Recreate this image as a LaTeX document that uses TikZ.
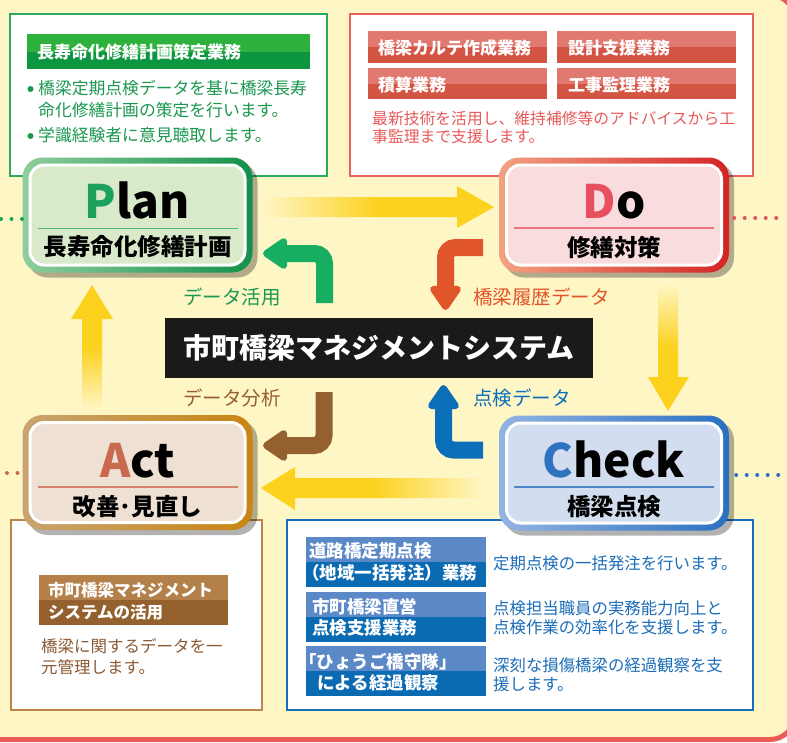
\documentclass[tikz,border=0pt]{standalone}
\usepackage{fontspec}
\setmainfont{Noto Sans CJK JP}
\usetikzlibrary{arrows.meta,shadows,calc}
\newcommand\FS[1]{\fontsize{#1}{#1}\selectfont}
\definecolor{bgy}{HTML}{FFF6C6}
\definecolor{panelred}{HTML}{EC5B55}
\definecolor{ylw}{HTML}{FCD21F}
\definecolor{gline}{HTML}{2AAA5E}
\definecolor{gtext}{HTML}{1A9850}
\definecolor{gbarA}{HTML}{2DB03C}
\definecolor{gbarB}{HTML}{0D9640}
\definecolor{rline}{HTML}{E86060}
\definecolor{rtext}{HTML}{E85A5A}
\definecolor{rbarA}{HTML}{E07A70}
\definecolor{rbarB}{HTML}{D45444}
\definecolor{bline}{HTML}{1570B8}
\definecolor{btext}{HTML}{1C6DB8}
\definecolor{bbarA}{HTML}{5B88C6}
\definecolor{bbarB}{HTML}{0A6AB2}
\definecolor{nline}{HTML}{B8864A}
\definecolor{ntext}{HTML}{8A5A35}
\definecolor{nbarA}{HTML}{B28048}
\definecolor{nbarB}{HTML}{94602E}
\definecolor{blk}{HTML}{1B1A19}
\definecolor{garrow}{HTML}{18AE62}
\definecolor{oarrow}{HTML}{E0552A}
\definecolor{barrow}{HTML}{94602F}
\definecolor{uarrow}{HTML}{0A6EB8}
\definecolor{pP}{HTML}{1BA15B}
\definecolor{pD}{HTML}{E8505F}
\definecolor{pA}{HTML}{C96A4F}
\definecolor{pC}{HTML}{2F72BF}
\definecolor{plL}{HTML}{8FCE9C}
\definecolor{plR}{HTML}{13904A}
\definecolor{plF}{HTML}{D9EACB}
\definecolor{doL}{HTML}{F2A282}
\definecolor{doR}{HTML}{D42424}
\definecolor{doF}{HTML}{F9DCDD}
\definecolor{acL}{HTML}{C8A470}
\definecolor{acR}{HTML}{C88512}
\definecolor{acF}{HTML}{EEE0D2}
\definecolor{chL}{HTML}{93B4E2}
\definecolor{chR}{HTML}{2870C0}
\definecolor{chF}{HTML}{D2DEF0}
\begin{document}
\begin{tikzpicture}[x=1pt,y=-1pt,
  txt/.style={inner sep=0pt, anchor=west},
  infobox/.style={fill=white, line width=1.8pt},
  larrow/.style={line width=17pt, rounded corners=10pt, -{Triangle[length=27pt,width=35pt,round]}},
  pdca/.style n args={2}{rounded corners=20pt, minimum width=230pt, minimum height=115pt,
     inner sep=0pt, left color=#1, right color=#2,
     drop shadow={shadow xshift=5pt, shadow yshift=-5pt, fill=black, opacity=0.3}},
  pdcain/.style={draw=white, line width=3pt, fill=#1, rounded corners=14pt,
     minimum width=215pt, minimum height=100pt, inner sep=0pt},
  dots/.style={line width=4pt, line cap=round, dash pattern=on 0pt off 10.5pt},
  big/.style={font=\bfseries\FS{46}, anchor=base, inner sep=0pt},
  sub/.style={font=\bfseries\FS{23.5}, inner sep=0pt}]
\useasboundingbox (0,0) rectangle (787,742);
\clip (0,0) rectangle (787,742);
\fill[white] (0,0) rectangle (787,742);
\draw[fill=bgy, draw=panelred, line width=5pt, rounded corners=25pt] (-30,-5) rectangle (795,739.5);

% ---- top-left green box
\draw[infobox, draw=gline, line width=1.6pt] (10,14) rectangle (327,176);
\fill[gbarA] (27,34) rectangle (310,51.5);
\fill[gbarB] (27,51.5) rectangle (310,69);
\node[txt, white, font=\bfseries\FS{17}] (gt) at (37,52) {長寿命化修繕計画策定業務};
\fill[gtext] (30.5,89) circle (3);
\fill[gtext] (30.5,136) circle (3);
\node[txt, gtext, font=\FS{16.8}] (g1) at (38,88) {橋梁定期点検データを基に橋梁長寿};
\node[txt, gtext, font=\FS{16.8}] (g2) at (38,110) {命化修繕計画の策定を行います。};
\node[txt, gtext, font=\FS{16.8}] (g3) at (38,135) {学識経験者に意見聴取します。};

% ---- top-right red box
\draw[infobox, draw=rline] (350,14) rectangle (753,176);
\fill[rbarA] (368,31) rectangle (547,47); \fill[rbarB] (368,47) rectangle (547,63);
\fill[rbarA] (557,31) rectangle (736,47); \fill[rbarB] (557,47) rectangle (736,63);
\fill[rbarA] (368,68) rectangle (547,83.5); \fill[rbarB] (368,83.5) rectangle (547,99);
\fill[rbarA] (557,68) rectangle (736,83.5); \fill[rbarB] (557,83.5) rectangle (736,99);
\node[txt, white, font=\bfseries\FS{17}] (r1) at (378,48) {橋梁カルテ作成業務};
\node[txt, white, font=\bfseries\FS{17}] (r2) at (568,48) {設計支援業務};
\node[txt, white, font=\bfseries\FS{17}] (r3) at (378,85) {積算業務};
\node[txt, white, font=\bfseries\FS{17}] (r4) at (568,85) {工事監理業務};
\node[txt, rtext, font=\FS{15.8}] (rb1) at (372,118) {最新技術を活用し、維持補修等のアドバイスから工};
\node[txt, rtext, font=\FS{15.8}] (rb2) at (372,137) {事監理まで支援します。};

% ---- bottom-left brown box
\draw[infobox, draw=nline, line width=1.6pt] (11,520) rectangle (262,710);
\fill[nbarA] (39,575) rectangle (228,599.5);
\fill[nbarB] (39,599.5) rectangle (228,625);
\node[txt, white, font=\bfseries\FS{16.5}] (n1) at (48,590) {市町橋梁マネジメント};
\node[txt, white, font=\bfseries\FS{16.5}] (n2) at (48,612) {システムの活用};
\node[txt, ntext, font=\FS{16.5}] (n3) at (41,646) {橋梁に関するデータを一};
\node[txt, ntext, font=\FS{16.5}] (n4) at (41,667) {元管理します。};

% ---- bottom-right blue box
\draw[infobox, draw=bline] (287,520) rectangle (753,710);
\fill[bbarA] (306,537) rectangle (486,562); \fill[bbarB] (306,562) rectangle (486,587);
\fill[bbarA] (306,592) rectangle (486,617); \fill[bbarB] (306,617) rectangle (486,642);
\fill[bbarA] (306,646) rectangle (486,671); \fill[bbarB] (306,671) rectangle (486,696);
\node[txt, white, font=\bfseries\FS{17.5}] (b1) at (309,551) {道路橋定期点検};
\node[txt, white, font=\bfseries\FS{17.5}] (b2) at (302,573) {（地域一括発注）業務};
\node[txt, white, font=\bfseries\FS{17.5}] (b3) at (312,607) {市町橋梁直営};
\node[txt, white, font=\bfseries\FS{17.5}] (b4) at (312,628) {点検支援業務};
\node[txt, white, font=\bfseries\FS{17.5}] (b5) at (299,662) {「ひょうご橋守隊」};
\node[txt, white, font=\bfseries\FS{17.5}] (b6) at (317,683) {による経過観察};
\node[txt, btext, font=\FS{16.4}] (bt1) at (493,563) {定期点検の一括発注を行います。};
\node[txt, btext, font=\FS{16.4}] (bt2) at (493,608) {点検担当職員の実務能力向上と};
\node[txt, btext, font=\FS{16.4}] (bt3) at (493,627) {点検作業の効率化を支援します。};
\node[txt, btext, font=\FS{16.4}] (bt4) at (493,665) {深刻な損傷橋梁の経過観察を支};
\node[txt, btext, font=\FS{16.4}] (bt5) at (493,684) {援します。};

% ---- yellow cycle arrows
\shade[left color=bgy, right color=ylw, middle color=ylw]
  (262,197) -- (457,197) -- (457,186) -- (494,207) -- (457,228) -- (457,217) -- (262,217) -- cycle;
\shade[top color=bgy, bottom color=ylw, middle color=ylw]
  (658,283) -- (678,283) -- (678,377) -- (689,377) -- (668,411) -- (648,377) -- (658,377) -- cycle;
\shade[left color=ylw, right color=bgy, middle color=ylw]
  (485,478) -- (295,478) -- (295,467) -- (261,488) -- (295,510) -- (295,498) -- (485,498) -- cycle;
\shade[top color=ylw, bottom color=bgy, middle color=ylw]
  (82,410) -- (82,319) -- (71,319) -- (92,285) -- (113,319) -- (102,319) -- (102,410) -- cycle;

% ---- PDCA nodes
\node[pdca={plL}{plR}] (plan) at (137.5,215) {};
\node[pdcain=plF] at (plan.center) {};
\node[big] at ($(plan.center)+(0,3)$) {\textcolor{pP}{P}lan};
\draw[pP!80, line width=1.2pt] ($(plan.center)+(-100,13.5)$) -- ($(plan.center)+(100,13.5)$);
\node[sub] at ($(plan.center)+(0,31.5)$) {長寿命化修繕計画};

\node[pdca={doL}{doR}] (do) at (614,215) {};
\node[pdcain=doF] at (do.center) {};
\node[big] at ($(do.center)+(0,3)$) {\textcolor{pD}{D}o};
\draw[pD!80, line width=1.2pt] ($(do.center)+(-100,13)$) -- ($(do.center)+(100,13)$);
\node[sub] at ($(do.center)+(0,32)$) {修繕対策};

\node[pdca={acL}{acR}] (act) at (137.5,472.5) {};
\node[pdcain=acF] at (act.center) {};
\node[big] at ($(act.center)+(0,4.5)$) {\textcolor{pA}{A}ct};
\draw[pA!85, line width=1.2pt] ($(act.center)+(-100,14.5)$) -- ($(act.center)+(100,14.5)$);
\node[sub] at ($(act.center)+(0,34)$) {改善･見直し};

\node[pdca={chL}{chR}] (check) at (614,473) {};
\node[pdcain=chF] at (check.center) {};
\node[big] at ($(check.center)+(0,4)$) {\textcolor{pC}{C}heck};
\draw[pC!85, line width=1.2pt] ($(check.center)+(-100,14)$) -- ($(check.center)+(100,14)$);
\node[sub] at ($(check.center)+(0,34)$) {橋梁点検};

% ---- dotted leaders
\coordinate (pl) at (1,219);
\coordinate (dr) at (786,218);
\coordinate (al) at (7,473);
\coordinate (cr) at (786,475);
\draw[dots, draw=pP] (pl) -- (plan.west |- pl);
\draw[dots, draw=pD] (do.east |- dr) ++(5,0) -- (dr);
\draw[dots, draw=pA] (al) -- (act.west |- al);
\draw[dots, draw=pC] (check.east |- cr) ++(7,0) -- (cr);

% ---- central system box
\node[fill=blk, minimum width=428pt, minimum height=60pt, inner sep=0pt,
      text=white, font=\bfseries\FS{28}] (sys) at (379,348) {市町橋梁マネジメントシステム};

% ---- L arrows
\draw[larrow, draw=garrow] (324.5,303) -- (324.5,253.5) -- (263,253.5);
\draw[larrow, draw=oarrow] (483,247.5) -- (445.5,247.5) -- (445.5,310);
\draw[larrow, draw=barrow] (324,392) -- (324,445.5) -- (263,445.5);
\draw[larrow, draw=uarrow] (483,450) -- (443.5,450) -- (443.5,385);

\node[txt, gtext, font=\FS{19.5}] (l1) at (183,297) {データ活用};
\node[txt, oarrow, font=\FS{19.5}] (l2) at (473,297) {橋梁履歴データ};
\node[txt, barrow, font=\FS{19.5}] (l3) at (183,398) {データ分析};
\node[txt, uarrow, font=\FS{19.5}] (l4) at (473,398) {点検データ};
\end{tikzpicture}
\end{document}
